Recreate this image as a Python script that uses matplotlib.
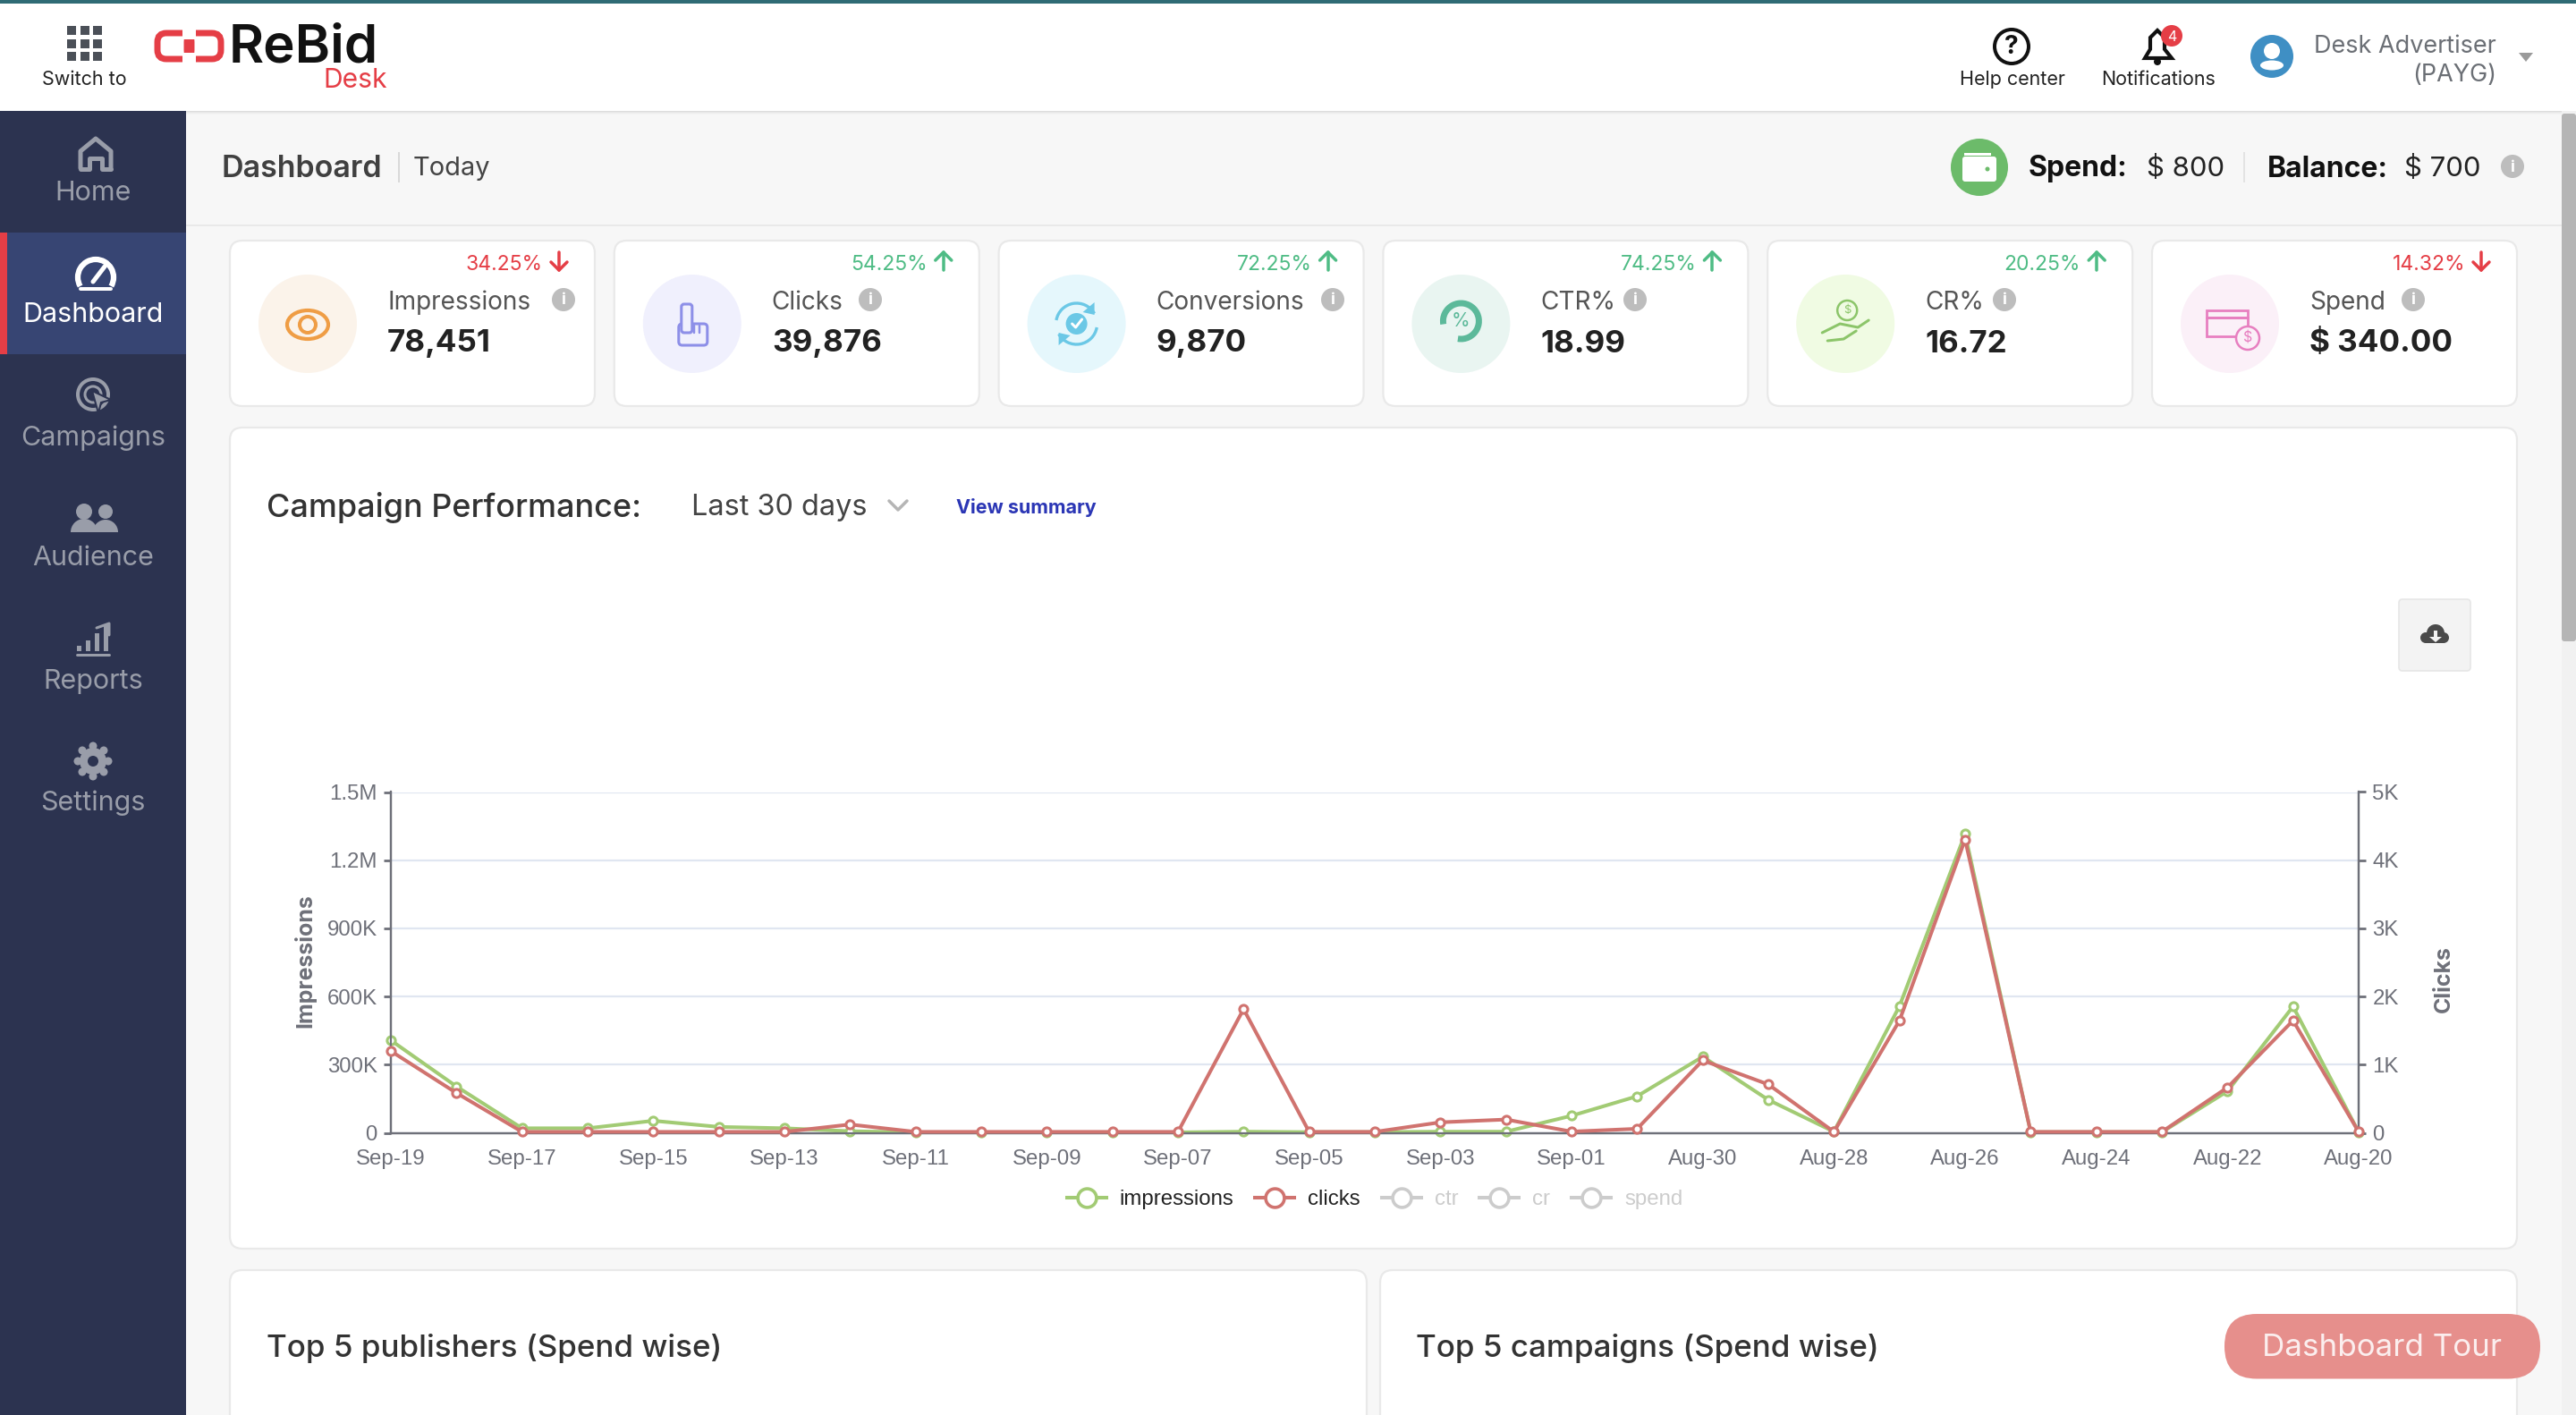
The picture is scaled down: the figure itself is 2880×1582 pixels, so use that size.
import matplotlib
matplotlib.use("Agg")
from matplotlib import pyplot as plt
from matplotlib.lines import Line2D
from matplotlib.patches import Circle, Ellipse, FancyBboxPatch, Polygon, Rectangle, Arc, Wedge

W, H = 2880, 1582
UI_FONT = ["Inter", "DejaVu Sans"]
CHART_FONT = ["Liberation Sans", "DejaVu Sans"]

# chart data, newest day first like the original
days = ["Sep-19", "Sep-18", "Sep-17", "Sep-16", "Sep-15", "Sep-14", "Sep-13", "Sep-12",
        "Sep-11", "Sep-10", "Sep-09", "Sep-08", "Sep-07", "Sep-06", "Sep-05", "Sep-04",
        "Sep-03", "Sep-02", "Sep-01", "Aug-31", "Aug-30", "Aug-29", "Aug-28", "Aug-27",
        "Aug-26", "Aug-25", "Aug-24", "Aug-23", "Aug-22", "Aug-21", "Aug-20"]
impressions = [407000, 204000, 20000, 20000, 53000, 26000, 20000, 7000,
               2000, 2000, 2000, 2000, 2000, 5000, 3000, 3000,
               5000, 5000, 75000, 161000, 335000, 145000, 5000, 558000,
               1315000, 3000, 3000, 3000, 183000, 556000, 3000]
clicks = [1199, 584, 14, 14, 14, 14, 14, 122,
          14, 14, 14, 14, 14, 1815, 14, 14,
          154, 195, 18, 59, 1063, 710, 14, 1647,
          4303, 14, 14, 14, 665, 1647, 14]
left_ticks = [0, 300000, 600000, 900000, 1200000, 1500000]
left_labels = ["0", "300K", "600K", "900K", "1.2M", "1.5M"]
right_ticks = [0, 1000, 2000, 3000, 4000, 5000]
right_labels = ["0", "1K", "2K", "3K", "4K", "5K"]
legend_names = ["impressions", "clicks", "ctr", "cr", "spend"]

# stat cards
card_names = ["Impressions", "Clicks", "Conversions", "CTR%", "CR%", "Spend"]
card_values = ["78,451", "39,876", "9,870", "18.99", "16.72", "$ 340.00"]
card_changes = ["34.25%", "54.25%", "72.25%", "74.25%", "20.25%", "14.32%"]
card_up = [False, True, True, True, True, False]
card_tints = ["#fbf3ea", "#f0f0fd", "#e5f7fc", "#e9f5f1", "#f0fbe3", "#fbf0f8"]
card_inks = ["#ef9d45", "#8d8fe8", "#6bc8e6", "#5cb99a", "#8cc56a", "#e77fc0"]
info_x = [630, 973, 1490, 1828, 2241, 2698]

nav_names = ["Home", "Dashboard", "Campaigns", "Audience", "Reports", "Settings"]

GREEN = "#a2cb74"
RED = "#d0736f"
AXIS = "#6e7079"
GRID = "#e0e6f1"
NAV = "#2c3350"
NAV_TEXT = "#999da9"

fig = plt.figure(figsize=(W / 100, H / 100), dpi=100)
bg = fig.add_axes([0, 0, 1, 1], zorder=0)
bg.set_xlim(0, W)
bg.set_ylim(H, 0)
bg.axis("off")


def label(x, y, s, px, color="#333333", weight="normal", ha="left", family=UI_FONT, zorder=5, **kw):
    return bg.text(x, y + 2, s, fontsize=px * 0.72, color=color, fontweight=weight, ha=ha, va="center",
                   family=family, zorder=zorder, **kw)


def rect(x0, y0, x1, y1, color, zorder=1):
    bg.add_patch(Rectangle((x0, y0), x1 - x0, y1 - y0, fc=color, ec="none", zorder=zorder))


def card(x0, y0, x1, y1, r=14, zorder=2):
    bg.add_patch(FancyBboxPatch((x0 + r, y0 + r), x1 - x0 - 2 * r, y1 - y0 - 2 * r,
                                boxstyle=f"round,pad={r}", fc="white", ec="#e9e9e9", lw=1.6, zorder=zorder))


def line(xs, ys, color, lw=3, zorder=6):
    bg.plot(xs, ys, color=color, lw=lw * 0.72, solid_capstyle="round", zorder=zorder)


def ring(x, y, r, color, lw=3, zorder=6, fill="none"):
    bg.add_patch(Circle((x, y), r, fc=fill, ec=color, lw=lw * 0.72, zorder=zorder))


def info(x, y):
    bg.add_patch(Circle((x, y), 13, fc="#bdbdbd", ec="none", zorder=5))
    label(x, y - 1, "i", 18, color="white", weight="bold", ha="center", zorder=6)


# page background
rect(0, 0, W, H, "#f7f7f7", zorder=0)
rect(208, 251, 2864, 253, "#e9e9e9")

# header
rect(0, 0, W, 124, "white", zorder=3)
rect(0, 0, W, 4, "#2f6b75", zorder=4)
for i, c in enumerate(["#dddddd", "#e6e6e6", "#eeeeee", "#f3f3f3"]):
    rect(0, 124 + i, W, 125 + i, c, zorder=2)
for row in range(3):
    for col in range(3):
        rect(75 + col * 14.5, 29 + row * 14.5, 85 + col * 14.5, 39 + row * 14.5, "#4b5058", zorder=5)
label(94, 87, "Switch to", 21.5, color="#222222", ha="center")
# chain logo: two loops with the outer edges broken in the middle
for cx in (195, 228):
    bg.add_patch(FancyBboxPatch((cx - 9, 47), 18, 9, boxstyle="round,pad=10", fc="none", ec="#e53e46",
                                lw=5, zorder=5))
rect(204, 32, 219, 44, "white", zorder=6)
rect(204, 59, 219, 71, "white", zorder=6)
label(256, 52, "ReBid", 60, color="#111111", weight="semibold")
label(397, 88, "Desk", 30, color="#e53e46", ha="center")

ring(2249, 52, 19, "#111111", lw=4)
label(2249, 51, "?", 28, color="#111111", weight="bold", ha="center", zorder=7)
label(2250, 87, "Help center", 21.5, color="#222222", ha="center")
bg.add_patch(Polygon([(2398, 65), (2404, 55), (2404, 42), (2412, 34), (2420, 42), (2420, 55), (2428, 65)],
                     fc="white", ec="#111111", lw=3, zorder=5))
bg.add_patch(Circle((2412, 69), 4, fc="#111111", ec="none", zorder=5))
bg.add_patch(Circle((2428, 40), 12, fc="#e53e46", ec="none", zorder=6))
label(2428, 39, "4", 16, color="white", ha="center", zorder=7)
label(2413, 87, "Notifications", 21.5, color="#222222", ha="center")
bg.add_patch(Circle((2540, 63), 24, fc="#3f8fc4", ec="none", zorder=5))
bg.add_patch(Circle((2540, 57), 9, fc="white", ec="none", zorder=6))
bg.add_patch(Ellipse((2540, 73), 26, 11, fc="white", ec="none", zorder=6))
label(2791, 50, "Desk Advertiser", 27, color="#6b6f75", ha="right")
label(2791, 82, "(PAYG)", 27, color="#6b6f75", ha="right")
bg.add_patch(Polygon([(2816, 59), (2832, 59), (2824, 69)], fc="#9a9a9a", ec="none", zorder=5))

# sidebar
rect(0, 124, 208, H, NAV, zorder=3)
rect(0, 260, 208, 396, "#374573", zorder=4)
rect(0, 260, 8, 396, "#e53e46", zorder=5)
nav_label_y = [214, 350, 488, 622, 760, 896]
for name, y in zip(nav_names, nav_label_y):
    label(104, y, name, 30.5, color="white" if name == "Dashboard" else NAV_TEXT, ha="center")
# home
line([90, 90, 107, 124, 124], [188, 169, 155, 169, 188], NAV_TEXT, lw=5)
line([90, 100, 100, 114, 114, 124], [189, 189, 177, 177, 189, 189], NAV_TEXT, lw=5)
# gauge
bg.add_patch(Arc((107, 310), 40, 40, theta1=150, theta2=390, ec="white", lw=4.5, zorder=6))
line([90, 124], [323, 323], "white", lw=4)
line([104, 117], [315, 298], "white", lw=5)
# target
ring(104, 441, 17, NAV_TEXT, lw=4)
ring(104, 441, 9, NAV_TEXT, lw=3)
bg.add_patch(Polygon([(103, 437), (124, 447), (113, 450), (110, 462)], fc=NAV_TEXT, ec=NAV, lw=1.5, zorder=7))
# people
for cx, r in ((94, 9), (118, 8)):
    bg.add_patch(Circle((cx, 572), r, fc=NAV_TEXT, ec="none", zorder=6))
    bg.add_patch(Wedge((cx, 595), r + 6, 180, 360, fc=NAV_TEXT, ec="none", zorder=6))
# reports
for x0, top in ((86, 722), (96, 716), (106, 708), (116, 698)):
    rect(x0, top, x0 + 5, 728, NAV_TEXT, zorder=6)
line([86, 122], [732, 732], NAV_TEXT, lw=3)
line([108, 122, 122], [702, 697, 710], NAV_TEXT, lw=3)
# gear
bg.add_patch(Circle((104, 851), 15, fc=NAV_TEXT, ec="none", zorder=6))
for dx, dy in ((0, -17), (0, 17), (-17, 0), (17, 0), (-12, -12), (12, 12), (-12, 12), (12, -12)):
    bg.add_patch(Circle((104 + dx, 851 + dy), 4.5, fc=NAV_TEXT, ec="none", zorder=6))
bg.add_patch(Circle((104, 851), 6, fc=NAV, ec="none", zorder=7))

# breadcrumb row
label(248, 187.5, "Dashboard", 34, color="#404040", weight="semibold")
rect(445, 170, 447, 204, "#d9d9d9")
label(462, 186.5, "Today", 29, color="#444444")
bg.add_patch(Circle((2213, 187), 32, fc="#6cbb6a", ec="none", zorder=4))
bg.add_patch(FancyBboxPatch((2197, 178), 32, 22, boxstyle="round,pad=3", fc="white", ec="none", zorder=5))
rect(2196, 171, 2226, 174, "white", zorder=5)
bg.add_patch(Circle((2222, 189), 2.5, fc="#6cbb6a", ec="none", zorder=6))
label(2268, 187, "Spend:", 32, color="#111111", weight="bold")
label(2400, 186, "$ 800", 31, color="#222222")
rect(2508, 170, 2510, 204, "#e3e3e3")
label(2535, 187, "Balance:", 32, color="#111111", weight="bold")
label(2688, 186, "$ 700", 31, color="#222222")
info(2809, 186)

# stat cards
for i, name in enumerate(card_names):
    x0 = 257 + i * 429.8
    card(x0, 269, x0 + 408, 454)
    ink = card_inks[i]
    cx = x0 + 87
    bg.add_patch(Circle((cx, 362), 55, fc=card_tints[i], ec="none", zorder=3))
    delta = "#4fbc85" if card_up[i] else "#e53e46"
    label(x0 + 350, 294, card_changes[i], 23, color=delta, ha="right")
    ax_x = x0 + 368
    if card_up[i]:
        line([ax_x, ax_x], [282, 302], delta, lw=3.5)
        line([ax_x - 9, ax_x, ax_x + 9], [291, 282, 291], delta, lw=3.5)
    else:
        line([ax_x, ax_x], [282, 302], delta, lw=3.5)
        line([ax_x - 9, ax_x, ax_x + 9], [293, 302, 293], delta, lw=3.5)
    label(x0 + 176, 336, name, 28, color="#555555")
    label(x0 + 176, 382.5, card_values[i], 35, color="#222222", weight="bold")
    info(info_x[i], 335)
    # little icon in the circle
    if i == 0:
        bg.add_patch(Ellipse((cx, 363), 46, 32, fc="none", ec=ink, lw=3, zorder=5))
        ring(cx, 363, 9, ink, lw=4)
    elif i == 1:
        bg.add_patch(FancyBboxPatch((cx - 9, 343), 6, 26, boxstyle="round,pad=3", fc=card_tints[i], ec=ink, lw=2.2, zorder=6))
        bg.add_patch(FancyBboxPatch((cx - 11, 366), 24, 16, boxstyle="round,pad=4", fc=card_tints[i], ec=ink, lw=2.2, zorder=5))
        for dx in (2, 8):
            line([cx + dx, cx + dx], [364, 372], ink, lw=2.5)
    elif i == 2:
        bg.add_patch(Arc((cx, 362), 46, 46, theta1=10, theta2=150, ec=ink, lw=2.4, zorder=5))
        bg.add_patch(Arc((cx, 362), 46, 46, theta1=190, theta2=330, ec=ink, lw=2.4, zorder=5))
        bg.add_patch(Circle((cx, 362), 12, fc=ink, ec="none", zorder=5))
        line([cx - 5, cx - 1, cx + 6], [362, 366, 357], "white", lw=3, zorder=7)
        bg.add_patch(Polygon([(cx + 20, 338), (cx + 20, 352), (cx + 7, 349)], fc=ink, ec="none", zorder=5))
        bg.add_patch(Polygon([(cx - 20, 386), (cx - 20, 372), (cx - 7, 375)], fc=ink, ec="none", zorder=5))
    elif i == 3:
        bg.add_patch(Arc((cx, 359), 40, 40, theta1=170, theta2=460, ec=ink, lw=5, zorder=5))
        label(cx, 357, "%", 21, color=ink, ha="center", zorder=8)
    elif i == 4:
        ring(cx + 2, 347, 11, ink, lw=2.5)
        label(cx + 2, 345, "$", 13, color=ink, ha="center", zorder=7)
        line([cx - 26, cx - 6, cx + 14, cx + 26], [372, 362, 366, 358], ink, lw=3)
        line([cx - 20, cx - 2, cx + 12], [381, 379, 370], ink, lw=3)
    else:
        rect(cx - 26, 347, cx + 20, 376, card_tints[i], zorder=4)
        bg.add_patch(Rectangle((cx - 26, 347), 46, 29, fc="none", ec=ink, lw=2, zorder=5))
        line([cx - 26, cx + 20], [355, 355], ink, lw=3)
        ring(cx + 20, 378, 13, ink, lw=2.5, fill=card_tints[i])
        label(cx + 20, 376, "$", 16, color=ink, ha="center", zorder=7)

# chart card and lower cards
card(257, 478, 2814, 1396)
card(257, 1420, 1528, H + 40)
card(1543, 1420, 2814, H + 40)
label(298, 565.5, "Campaign Performance:", 36, color="#333333", weight="medium")
label(773, 565.5, "Last 30 days", 32.5, color="#444444")
line([994, 1004, 1014], [560, 570, 560], "#b5b5b5", lw=3.5)
label(1069, 565.5, "View summary", 21.5, color="#2b36b5", weight="bold")
bg.add_patch(FancyBboxPatch((2686, 674), 72, 72, boxstyle="round,pad=4", fc="#f3f3f3", ec="#e6e6e6", lw=1.2, zorder=3))
# cloud download glyph
bg.add_patch(Circle((2723, 708), 10, fc="#4a4a4a", ec="none", zorder=4))
bg.add_patch(Circle((2712, 713), 6, fc="#4a4a4a", ec="none", zorder=4))
bg.add_patch(Circle((2732, 713), 6, fc="#4a4a4a", ec="none", zorder=4))
rect(2712, 711, 2732, 719, "#4a4a4a", zorder=4)
rect(2721, 705, 2725, 713, "#f3f3f3", zorder=5)
bg.add_patch(Polygon([(2716, 712), (2730, 712), (2723, 718)], fc="#f3f3f3", ec="none", zorder=5))
label(298, 1505.5, "Top 5 publishers (Spend wise)", 35, color="#333333", weight="medium")
label(1583, 1505.5, "Top 5 campaigns (Spend wise)", 35, color="#333333", weight="medium")

# tour button
bg.add_patch(FancyBboxPatch((2523, 1505), 281, 0.5, boxstyle="round,pad=36", fc="#e68f8c", ec="none", zorder=8))
label(2663, 1505.5, "Dashboard Tour", 35, color="#fbeeee", ha="center", zorder=9)

# scrollbar
rect(2864, 124, W, H, "#f1f1f1", zorder=6)
bg.add_patch(FancyBboxPatch((2867, 130), 10, 584, boxstyle="round,pad=3", fc="#b5b5b5", ec="none", zorder=7))

# the chart itself
ax = fig.add_axes([437 / W, 1 - 1266.5 / H, 2200 / W, 381 / H], zorder=2)
ax.patch.set_alpha(0)
ax2 = ax.twinx()
ax2.patch.set_alpha(0)
xs = list(range(len(days)))
marker = dict(marker="o", markersize=6.6, markerfacecolor="white", markeredgewidth=2.2, clip_on=False)
ax.plot(xs, impressions, color=GREEN, lw=2.9, markeredgecolor=GREEN, zorder=3, **marker)
ax2.plot(xs, clicks, color=RED, lw=2.9, markeredgecolor=RED, zorder=3, **marker)

ax.set_xlim(0, len(days) - 1)
ax.set_ylim(0, left_ticks[-1])
ax2.set_ylim(0, right_ticks[-1])
ax.set_xticks(xs[::2])
ax.set_xticklabels(days[::2], family=CHART_FONT, fontsize=17.3, color=AXIS)
ax.set_yticks(left_ticks)
ax.set_yticklabels(left_labels, family=CHART_FONT, fontsize=17.3, color=AXIS)
ax2.set_yticks(right_ticks)
ax2.set_yticklabels(right_labels, family=CHART_FONT, fontsize=17.3, color=AXIS)
ax.tick_params(axis="x", length=0, pad=13.5)
ax.tick_params(axis="y", length=6, width=2, color=AXIS, pad=5)
ax2.tick_params(axis="y", length=6, width=2, color=AXIS, pad=5)
ax.grid(axis="y", color=GRID, lw=1.6, zorder=0)
ax.set_axisbelow(True)
for a in (ax, ax2):
    a.spines["top"].set_visible(False)
    for side in ("left", "right", "bottom"):
        a.spines[side].set_color(AXIS)
        a.spines[side].set_linewidth(1.6)
ax.set_ylabel("Impressions", family=UI_FONT, fontsize=18, fontweight="bold", color=AXIS)
ax.yaxis.set_label_coords((353 - 437) / 2200, (1266.5 - 1074) / 381)
ax2.set_ylabel("Clicks", family=UI_FONT, fontsize=18, fontweight="bold", color=AXIS, rotation=90)
ax2.yaxis.set_label_coords((2721 - 437) / 2200, (1266.5 - 1095) / 381)

legend_colors = [GREEN, RED, "#cccccc", "#cccccc", "#cccccc"]
handles = [Line2D([0], [0], color=c, lw=2.9, marker="o", markersize=15, markerfacecolor="white",
                  markeredgecolor=c, markeredgewidth=2.6) for c in legend_colors]
leg = ax.legend(handles, legend_names, loc="center", bbox_to_anchor=(0.5, (1266.5 - 1341) / 381), ncol=5,
                frameon=False, prop={"family": CHART_FONT, "size": 17.3}, handlelength=1.83,
                handletextpad=0.62, columnspacing=1.0, borderpad=0, borderaxespad=0)
for text, c in zip(leg.get_texts(), ["#222222", "#222222", "#cccccc", "#cccccc", "#cccccc"]):
    text.set_color(c)

fig.savefig("out.png", dpi=100)
